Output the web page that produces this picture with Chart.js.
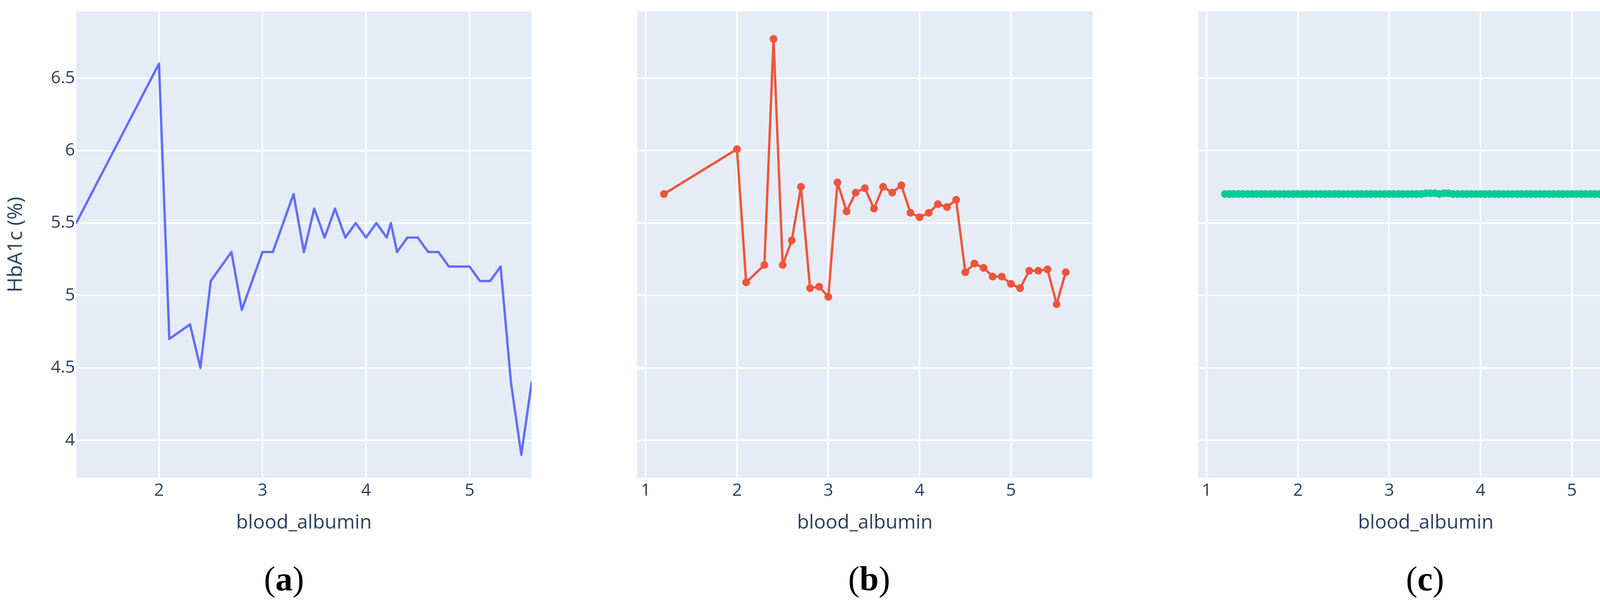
<!DOCTYPE html>
<html>
<head>
<meta charset="utf-8">
<script src="https://cdn.jsdelivr.net/npm/chart.js@4.4.0/dist/chart.umd.min.js"></script>
<style>
body { margin: 0; background: #fff; width: 4251px; height: 1546px; position: relative; overflow: hidden; }
canvas { position: absolute; top: 0; }
.cap { position: absolute; top: 1432px; font-family: "Liberation Serif", "Times New Roman", serif; font-size: 88px; line-height: 100px; transform: translateX(-50%); color: #000; white-space: nowrap; }
</style>
</head>
<body>
<canvas id="chartA" width="1417" height="1420" style="left:0px"></canvas>
<canvas id="chartB" width="1417" height="1420" style="left:1417px"></canvas>
<canvas id="chartC" width="1417" height="1420" style="left:2834px"></canvas>
<div class="cap" style="left:727px">(<b>a</b>)</div>
<div class="cap" style="left:2225px">(<b>b</b>)</div>
<div class="cap" style="left:3648px">(<b>c</b>)</div>
<script>
// (a) line only
var albuminA = [1.2, 2.0, 2.1, 2.3, 2.4, 2.5, 2.7, 2.8, 3.0, 3.1, 3.3, 3.4, 3.5, 3.6, 3.7, 3.8, 3.9, 4.0, 4.1, 4.2, 4.24, 4.3, 4.4, 4.5, 4.6, 4.7, 4.8, 5.0, 5.1, 5.2, 5.3, 5.4, 5.5, 5.6];
var hba1cA = [5.5, 6.6, 4.7, 4.8, 4.5, 5.1, 5.3, 4.9, 5.3, 5.3, 5.7, 5.3, 5.6, 5.4, 5.6, 5.4, 5.5, 5.4, 5.5, 5.4, 5.5, 5.3, 5.4, 5.4, 5.3, 5.3, 5.2, 5.2, 5.1, 5.1, 5.2, 4.4, 3.9, 4.4];

// (b) line + markers
var albuminB = [1.2, 2.0, 2.1, 2.3, 2.4, 2.5, 2.6, 2.7, 2.8, 2.9, 3.0, 3.1, 3.2, 3.3, 3.4, 3.5, 3.6, 3.7, 3.8, 3.9, 4.0, 4.1, 4.2, 4.3, 4.4, 4.5, 4.6, 4.7, 4.8, 4.9, 5.0, 5.1, 5.2, 5.3, 5.4, 5.5, 5.6];
var hba1cB = [5.70, 6.01, 5.09, 5.21, 6.77, 5.21, 5.38, 5.75, 5.05, 5.06, 4.99, 5.78, 5.58, 5.71, 5.74, 5.60, 5.75, 5.71, 5.76, 5.57, 5.54, 5.57, 5.63, 5.61, 5.66, 5.16, 5.22, 5.19, 5.13, 5.13, 5.08, 5.05, 5.17, 5.17, 5.18, 4.94, 5.16];

// (c) dense markers, flat
var albuminC = [1.2, 1.25, 1.3, 1.35, 1.4, 1.45, 1.5, 1.55, 1.6, 1.65, 1.7, 1.75, 1.8, 1.85, 1.9, 1.95,
    2.0, 2.05, 2.1, 2.15, 2.2, 2.25, 2.3, 2.35, 2.4, 2.45, 2.5, 2.55, 2.6, 2.65, 2.7, 2.75, 2.8, 2.85, 2.9, 2.95,
    3.0, 3.05, 3.1, 3.15, 3.2, 3.25, 3.3, 3.35, 3.4, 3.45, 3.5, 3.55, 3.6, 3.65, 3.7, 3.75, 3.8, 3.85, 3.9, 3.95,
    4.0, 4.05, 4.1, 4.15, 4.2, 4.25, 4.3, 4.35, 4.4, 4.45, 4.5, 4.55, 4.6, 4.65, 4.7, 4.75, 4.8, 4.85, 4.9, 4.95,
    5.0, 5.05, 5.1, 5.15, 5.2, 5.25, 5.3, 5.35, 5.4, 5.45, 5.5, 5.55, 5.6];
var hba1cC = [5.7, 5.7, 5.7, 5.7, 5.7, 5.7, 5.7, 5.7, 5.7, 5.7, 5.7, 5.7, 5.7, 5.7, 5.7, 5.7,
    5.7, 5.7, 5.7, 5.7, 5.7, 5.7, 5.7, 5.7, 5.7, 5.7, 5.7, 5.7, 5.7, 5.7, 5.7, 5.7, 5.7, 5.7, 5.7, 5.7,
    5.7, 5.7, 5.7, 5.7, 5.7, 5.7, 5.7, 5.7, 5.705, 5.705, 5.705, 5.7, 5.705, 5.705, 5.7, 5.7, 5.7, 5.7, 5.7, 5.7,
    5.7, 5.7, 5.7, 5.7, 5.7, 5.7, 5.7, 5.7, 5.7, 5.7, 5.7, 5.7, 5.7, 5.7, 5.7, 5.7, 5.7, 5.7, 5.7, 5.7,
    5.7, 5.7, 5.7, 5.7, 5.7, 5.7, 5.7, 5.7, 5.7, 5.7, 5.7, 5.7, 5.7];

var xTitle = 'blood_albumin';
var yTitle = 'HbA1c (%)';
var yMin = 3.741, yMax = 6.961;

var tickColor = '#2a3f5f';

// plot area background
var plotBg = {
    id: 'plotBg',
    beforeDraw: function (chart) {
        var a = chart.chartArea;
        var ctx = chart.ctx;
        ctx.save();
        ctx.fillStyle = '#e5ecf6';
        ctx.fillRect(a.left, a.top, a.right - a.left, a.bottom - a.top);
        ctx.restore();
    }
};

function toPoints(xs, ys) {
    var pts = [];
    for (var i = 0; i < xs.length; i++) {
        pts.push({ x: xs[i], y: ys[i] });
    }
    return pts;
}

// 4.0 -> "4", 4.5 -> "4.5"
function plainTick(v) {
    return String(Math.round(v * 100) / 100);
}

function makePanel(p) {
    new Chart(document.getElementById(p.id), {
        type: 'line',
        data: {
            datasets: [{
                data: toPoints(p.xs, p.ys),
                borderColor: p.color,
                backgroundColor: p.color,
                borderWidth: 6,
                borderJoinStyle: 'round',
                borderCapStyle: 'round',
                tension: 0,
                pointRadius: p.radius,
                pointBorderWidth: 0,
                pointHoverRadius: p.radius,
                fill: false
            }]
        },
        options: {
            responsive: false,
            animation: false,
            devicePixelRatio: 1,
            layout: { padding: { top: 29, right: p.right, bottom: 0, left: 0 } },
            plugins: { legend: { display: false }, tooltip: { enabled: false } },
            scales: {
                x: {
                    type: 'linear',
                    min: p.xmin,
                    max: p.xmax,
                    afterFit: function (s) { s.height = 197; },
                    border: { display: false },
                    grid: { color: '#ffffff', lineWidth: 4, drawTicks: false },
                    ticks: {
                        stepSize: 1,
                        includeBounds: false,
                        padding: 7,
                        color: tickColor,
                        font: { family: 'Open Sans', size: 44 },
                        callback: plainTick
                    },
                    title: {
                        display: true,
                        text: xTitle,
                        color: tickColor,
                        font: { family: 'Open Sans', size: 50 },
                        padding: { top: 0, bottom: 51 }
                    }
                },
                y: {
                    min: yMin,
                    max: yMax,
                    afterFit: function (s) { s.width = p.yw; },
                    border: { display: false },
                    grid: { color: '#ffffff', lineWidth: 4, drawTicks: false },
                    ticks: {
                        display: p.showY,
                        stepSize: 0.5,
                        includeBounds: false,
                        padding: 3,
                        color: tickColor,
                        font: { family: 'Open Sans', size: 44 },
                        callback: plainTick
                    },
                    title: {
                        display: p.showY,
                        text: yTitle,
                        color: tickColor,
                        font: { family: 'Open Sans', size: 52 },
                        padding: { top: 10, bottom: 0 }
                    }
                }
            }
        },
        plugins: [plotBg]
    });
}

makePanel({ id: 'chartA', xs: albuminA, ys: hba1cA, color: '#636efa', radius: 0, xmin: 1.2, xmax: 5.6, yw: 195, right: 56, showY: true });
makePanel({ id: 'chartB', xs: albuminB, ys: hba1cB, color: '#ef553b', radius: 10, xmin: 0.906, xmax: 5.894, yw: 214, right: 37, showY: false });
makePanel({ id: 'chartC', xs: albuminC, ys: hba1cC, color: '#00cc96', radius: 10, xmin: 0.906, xmax: 5.894, yw: 233, right: 18, showY: false });
</script>
</body>
</html>
